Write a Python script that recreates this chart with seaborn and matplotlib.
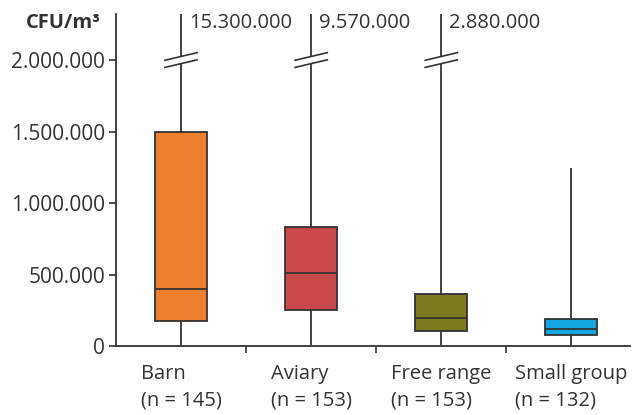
import numpy as np
import pandas as pd
import matplotlib
matplotlib.use("Agg")
import matplotlib.pyplot as plt
from matplotlib.ticker import FuncFormatter
import seaborn as sns

# Box statistics (CFU per m3)
groups = ["Barn", "Aviary", "Free range", "Small group"]
n_samples = [145, 153, 153, 132]
minimum = [10_000, 10_000, 5_000, 3_000]
q1 = [175_000, 252_000, 105_000, 77_000]
median = [400_000, 510_000, 196_000, 119_000]
q3 = [1_497_000, 832_000, 364_000, 189_000]
maximum = [15_300_000, 9_570_000, 2_880_000, 1_245_000]

colors = ["#EE7F2D", "#C9484A", "#7B7A1E", "#12A7E0"]
dark = "#333333"
y_top = 2_322_000
break_at = 2_000_000


def dotted(v, pos=None):
    return f"{v:,.0f}".replace(",", ".")


# five points per group -> quartiles reproduce exactly, whiskers at min/max
rows = []
for g, lo, a, m, b, hi in zip(groups, minimum, q1, median, q3, maximum):
    for v in (lo, a, m, b, hi):
        rows.append({"group": g, "cfu": v})
df = pd.DataFrame(rows)

sns.set_theme(style="white")
plt.rcParams["font.family"] = ["Open Sans", "DejaVu Sans"]
plt.rcParams["text.color"] = "#333333"

fig = plt.figure(figsize=(6.33, 4.15), dpi=100)
ax = fig.add_axes([116 / 633, 69 / 415, (630 - 116) / 633, 332 / 415])

sns.boxplot(data=df, x="group", y="cfu", hue="group", palette=colors,
            legend=False, whis=(0, 100), width=0.4, linecolor=dark,
            linewidth=1.3, saturation=1, showcaps=False, ax=ax)

ax.set_ylim(0, y_top)
ax.set_xlim(-0.5, 3.45)
ax.set_xlabel("")
ax.set_ylabel("")

# axes styling
for side in ["top", "right"]:
    ax.spines[side].set_visible(False)
for side in ["left", "bottom"]:
    ax.spines[side].set_color(dark)
    ax.spines[side].set_linewidth(1.3)

ax.set_yticks([0, 500_000, 1_000_000, 1_500_000, 2_000_000])
ax.yaxis.set_major_formatter(FuncFormatter(dotted))
ax.tick_params(axis="y", left=True, length=5, width=1.2, color=dark,
               labelsize=15, labelcolor="#333333", pad=3)

ax.set_xticks(range(len(groups)))
ax.set_xticklabels([f"{g}\n(n = {n})" for g, n in zip(groups, n_samples)],
                   multialignment="left", linespacing=1.45)
ax.tick_params(axis="x", which="major", length=0, labelsize=14.5,
               labelcolor="#333333", pad=13)
ax.set_xticks([0.5, 1.5, 2.5], minor=True)
ax.tick_params(axis="x", which="minor", bottom=True, length=5, width=1.2,
               color=dark)

# break marks and off-scale maxima
for i, hi in enumerate(maximum):
    if hi <= y_top:
        continue
    hw, rise, gap = 0.13, 28_000, 25_000
    xs = [i - hw, i + hw, i + hw, i - hw]
    ys = [break_at - rise - gap, break_at + rise - gap,
          break_at + rise + gap, break_at - rise + gap]
    ax.fill(xs, ys, color="white", zorder=5, lw=0)
    for off in (-gap, gap):
        ax.plot([i - hw, i + hw], [break_at - rise + off, break_at + rise + off],
                color=dark, lw=1.2, zorder=6, solid_capstyle="butt")
    ax.text(i + 0.06, 2_262_000, dotted(hi), fontsize=14.5, va="center",
            ha="left", color="#333333")

fig.text(101 / 633, 1 - 23 / 415, "CFU/m³", fontsize=14.5, fontweight="bold",
         ha="right", va="center", color="#333333")

fig.savefig("out.png", dpi=100)
